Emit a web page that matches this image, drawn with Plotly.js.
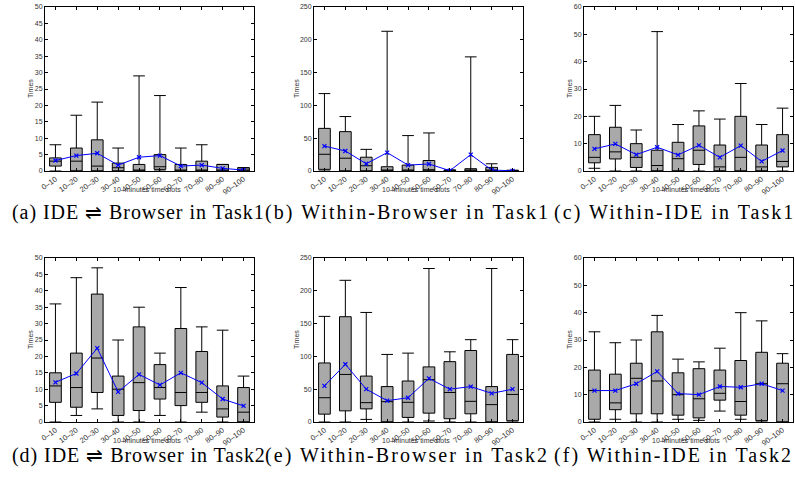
<!DOCTYPE html>
<html>
<head>
<meta charset="utf-8">
<script src="https://cdn.plot.ly/plotly-3.0.1.min.js"></script>
<style>
html,body{margin:0;padding:0;background:#fff;}
#chart{width:795px;height:477px;}
text.annotation-text[style*="DejaVu Serif"]{letter-spacing:2.05px;}
text.annotation-text[style*="Serif"]:not([style*="DejaVu"]){letter-spacing:0.95px;}
</style>
</head>
<body>
<div id="chart"></div>
<script>
const categories = ['0\u201310','10\u201320','20\u201330','30\u201340','40\u201350','50\u201360','60\u201370','70\u201380','80\u201390','90\u2013100'];
const captions = ['(a) IDE \u21CC Browser in Task1','(b) Within-Browser in Task1','(c) Within-IDE in Task1',
                  '(d) IDE \u21CC Browser in Task2','(e) Within-Browser in Task2','(f) Within-IDE in Task2'];
const yMax = [50, 250, 60, 50, 250, 60];
const yStep = [5, 50, 10, 5, 50, 10];

// (a) IDE <-> Browser, Task1
const aLow  = [0, 0, 0, 0, 0, 0, 0, 0, 0, 0];
const aQ1   = [1.5, 0, 0, 0, 0, 0.5, 0, 0, 0, 0];
const aMed  = [3, 3, 1.5, 1, 0, 1.3, 0, 0, 0, 0];
const aQ3   = [4, 7, 9.5, 2.4, 2, 5, 2, 3, 2, 1];
const aHigh = [8, 17, 21, 7, 29, 23, 7, 8, 2, 1];
const aMean = [3.2, 4.7, 5.4, 1.8, 4.2, 4.7, 1.5, 1.8, 0.8, 0.3];

// (b) Within-Browser, Task1
const bLow  = [0, 0, 0, 0, 0, 0, 0, 0, 0, 0];
const bQ1   = [2.5, 0, 0, 0, 0, 0, 0, 0, 0, 0];
const bMed  = [25.5, 19.5, 8, 0, 0, 2, 0, 0, 1, 0];
const bQ3   = [65, 60, 21, 6.5, 9, 16, 1.5, 3.5, 5.5, 1];
const bHigh = [118, 83, 33, 213, 54, 58, 1.5, 174, 11, 1];
const bMean = [38, 30.5, 11, 28, 9, 10.7, 0.5, 25, 1.5, 0.3];

// (c) Within-IDE, Task1
const cLow  = [1, 0, 0, 0, 0, 0, 0, 0, 0, 0];
const cQ1   = [3, 4.4, 1.3, 0, 0, 2.4, 0, 0, 0, 1.5];
const cMed  = [5, 7, 5, 2, 4.5, 7.6, 1.5, 5, 1.5, 3.5];
const cQ3   = [13.3, 16, 10, 7.6, 10.5, 16.5, 9.5, 20, 9.5, 13.3];
const cHigh = [20, 24, 15, 51, 17, 22, 19, 32, 17, 23];
const cMean = [8.1, 9.9, 6, 8.7, 5.9, 9.4, 5, 9.3, 3.5, 7.5];

// (d) IDE <-> Browser, Task2
const dLow  = [0, 2, 4, 0, 0, 2, 0, 3, 0, 0];
const dQ1   = [6, 4.5, 9, 2, 3.5, 7, 5, 6, 1.5, 0];
const dMed  = [11, 10.5, 19.5, 10, 12, 10.5, 9, 9, 4, 3];
const dQ3   = [15, 21, 39, 14, 29, 17.5, 28.5, 21.5, 11, 10.5];
const dHigh = [36, 44, 47, 25, 35, 21, 41, 29, 28, 14];
const dMean = [12.1, 14.8, 22.5, 9.2, 14.5, 11.3, 15, 12, 7, 4.9];

// (e) Within-Browser, Task2
const eLow  = [0, 0, 4, 0, 0, 1.5, 0, 0, 0, 0];
const eQ1   = [12, 17, 20, 0, 7, 13.5, 5, 12.5, 0, 2];
const eMed  = [37, 72.5, 29.5, 31, 30, 64.5, 45, 31.5, 26.5, 42];
const eQ3   = [90, 160.5, 70, 54, 62.5, 84, 92, 109, 54, 103];
const eHigh = [161, 216, 167, 103, 105, 234, 107, 125.5, 234, 125.5];
const eMean = [55, 88, 50, 32.5, 37, 66.5, 50, 54, 43.7, 50];

// (f) Within-IDE, Task2
const fLow  = [0, 1, 0, 0, 1, 0.6, 4, 1, 0, 0];
const fQ1   = [1, 4.5, 3, 3, 2.5, 1.5, 8, 2.5, 0.5, 0];
const fMed  = [11.5, 7, 16, 15, 10, 8.5, 10.5, 7.5, 14, 14];
const fQ3   = [19, 17.5, 21.5, 33, 18, 19.5, 19, 22.5, 25.5, 21.5];
const fHigh = [33, 29, 30, 39, 23, 22, 27, 40, 37, 25];
const fMean = [11.5, 11.5, 14, 18.5, 10.4, 10, 13, 12.7, 14, 11.5];

const series = [
  [aLow, aQ1, aMed, aQ3, aHigh, aMean],
  [bLow, bQ1, bMed, bQ3, bHigh, bMean],
  [cLow, cQ1, cMed, cQ3, cHigh, cMean],
  [dLow, dQ1, dMed, dQ3, dHigh, dMean],
  [eLow, eQ1, eMed, eQ3, eHigh, eMean],
  [fLow, fQ1, fMed, fQ3, fHigh, fMean]
];

const W = 795, H = 477;
// plot-area boxes in pixels (left, right, top, bottom)
const boxes = [
  [45, 254, 7, 171], [314, 523, 7, 171], [584, 793, 7, 171],
  [45, 254, 258, 422], [314, 523, 258, 422], [584, 793, 258, 422]
];
const yTitleX = [30, 296, 569, 30, 296, 569];
const capX = [10, 263, 552, 10, 263, 552];
const capY = [212, 212, 212, 455, 455, 455];
// captions with the ⇌ sign get a tighter letter-spacing (selected through the family string)
const capFamily = ['Liberation Serif, serif', 'Liberation Serif, DejaVu Serif, serif', 'Liberation Serif, DejaVu Serif, serif',
                   'Liberation Serif, serif', 'Liberation Serif, DejaVu Serif, serif', 'Liberation Serif, DejaVu Serif, serif'];

const pos = categories.map((c, i) => i + 1);
const tickFont = {family: 'Liberation Sans, Arial, sans-serif', size: 7, color: '#333'};
const xTickFont = {family: 'Liberation Sans, Arial, sans-serif', size: 7.6, color: '#333'};

const data = [];
const layout = {
  width: W, height: H,
  margin: {l: 0, r: 0, t: 0, b: 0},
  paper_bgcolor: '#fff', plot_bgcolor: '#fff',
  showlegend: false,
  annotations: []
};

series.forEach((s, k) => {
  const n = k + 1;
  const xa = n === 1 ? 'x' : 'x' + n;
  const ya = n === 1 ? 'y' : 'y' + n;
  data.push({
    type: 'box', xaxis: xa, yaxis: ya,
    x: pos, lowerfence: s[0], q1: s[1], median: s[2], q3: s[3], upperfence: s[4],
    width: 0.56, whiskerwidth: 1,
    fillcolor: '#a9a9a9',
    line: {color: '#000', width: 1},
    boxpoints: false, hoverinfo: 'skip'
  });
  data.push({
    type: 'scatter', mode: 'lines+markers', xaxis: xa, yaxis: ya,
    x: pos, y: s[5],
    line: {color: '#0000ff', width: 1},
    marker: {symbol: 'x-thin-open', size: 4, color: '#0000ff', line: {color: '#0000ff', width: 1.2}},
    hoverinfo: 'skip'
  });
  const b = boxes[k];
  layout['xaxis' + (n === 1 ? '' : n)] = {
    domain: [b[0] / W, b[1] / W], anchor: ya,
    range: [0.5, 10.5],
    tickvals: pos, ticktext: categories, tickangle: -35,
    tickfont: xTickFont,
    ticks: 'inside', ticklen: 3, tickcolor: '#000',
    showline: true, linecolor: '#000', linewidth: 1, mirror: 'ticks',
    showgrid: false, zeroline: false, fixedrange: true
  };
  layout['yaxis' + (n === 1 ? '' : n)] = {
    domain: [1 - b[3] / H, 1 - b[2] / H], anchor: xa,
    range: [0, yMax[k]], dtick: yStep[k], tick0: 0,
    tickfont: tickFont,
    ticks: 'inside', ticklen: 3, tickcolor: '#000',
    showline: true, linecolor: '#000', linewidth: 1, mirror: 'ticks',
    showgrid: false, zeroline: false, fixedrange: true
  };
  layout.annotations.push({
    xref: 'paper', yref: 'paper', x: yTitleX[k] / W, y: 1 - (b[2] + b[3]) / 2 / H,
    text: 'Times', textangle: -90, showarrow: false,
    xanchor: 'center', yanchor: 'middle', font: tickFont
  });
  layout.annotations.push({
    xref: 'paper', yref: 'paper', x: (b[0] + b[1]) / 2 / W - 3 / W, y: 1 - (b[3] + 18) / H,
    text: '10\u2013minutes time slots', showarrow: false,
    xanchor: 'center', yanchor: 'middle', font: tickFont
  });
  layout.annotations.push({
    xref: 'paper', yref: 'paper', x: capX[k] / W, y: 1 - capY[k] / H,
    text: captions[k], showarrow: false,
    xanchor: 'left', yanchor: 'middle',
    font: {family: capFamily[k], size: 20, color: '#000'}
  });
});

Plotly.newPlot('chart', data, layout, {staticPlot: true, displayModeBar: false});
</script>
</body>
</html>
